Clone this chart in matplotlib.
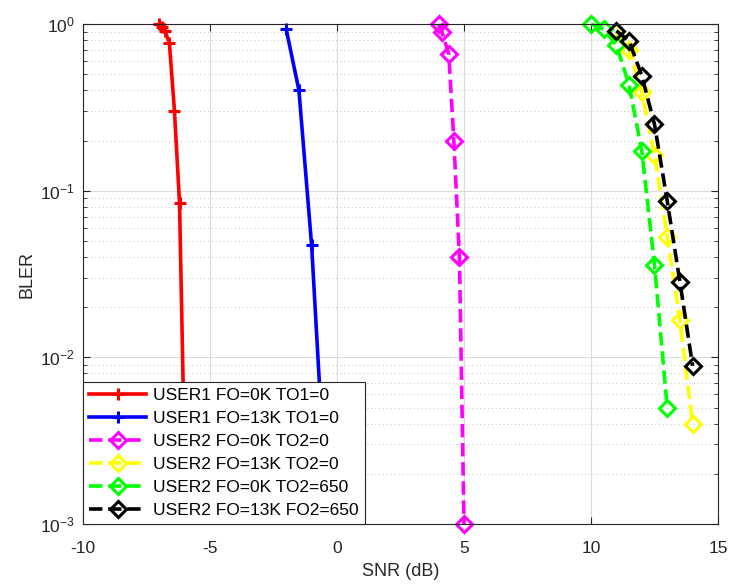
import numpy as np
import matplotlib
matplotlib.use("Agg")
import matplotlib.pyplot as plt
from matplotlib.ticker import LogLocator, NullFormatter

# BLER vs SNR
snr_u1_fo0 = [-7.0, -6.9, -6.78, -6.6, -6.4, -6.2, -5.96]
bler_u1_fo0 = [1.0, 0.96, 0.91, 0.77, 0.30, 0.084, 0.0012]

snr_u1_fo13 = [-2.0, -1.5, -1.0, -0.5]
bler_u1_fo13 = [0.93, 0.40, 0.047, 0.0021]

snr_u2_fo0 = [4.0, 4.13, 4.4, 4.6, 4.82, 5.0]
bler_u2_fo0 = [1.0, 0.90, 0.66, 0.20, 0.040, 0.001]

snr_u2_fo13 = [11.0, 11.5, 12.0, 12.5, 13.0, 13.5, 14.0]
bler_u2_fo13 = [0.90, 0.70, 0.39, 0.164, 0.053, 0.0168, 0.0040]

snr_u2_fo0_to650 = [10.0, 10.5, 11.0, 11.5, 12.0, 12.5, 13.0]
bler_u2_fo0_to650 = [1.0, 0.93, 0.75, 0.43, 0.173, 0.036, 0.005]

snr_u2_fo13_to650 = [11.0, 11.5, 12.0, 12.5, 13.0, 13.5, 14.0]
bler_u2_fo13_to650 = [0.91, 0.79, 0.49, 0.25, 0.087, 0.0284, 0.0089]

plt.rcParams["font.family"] = ["Liberation Sans", "DejaVu Sans"]
plt.rcParams["mathtext.fontset"] = "custom"
plt.rcParams["mathtext.rm"] = "Liberation Sans"
plt.rcParams["mathtext.it"] = "Liberation Sans"
plt.rcParams["axes.unicode_minus"] = False

fig = plt.figure(figsize=(7.29, 5.86), dpi=100)
ax = fig.add_axes([0.1139, 0.1058, 0.8710, 0.8532])

lw = 2.6
ms = 9
common = dict(lw=lw, clip_on=False, mew=2.2)
# last red point sits under the legend, no marker there
ax.plot(snr_u1_fo0, bler_u1_fo0, "-", color=(1, 0, 0), marker="+",
        ms=ms, markevery=list(range(len(snr_u1_fo0) - 1)),
        label="USER1 FO=0K TO1=0", **common)
ax.plot(snr_u1_fo13, bler_u1_fo13, "-", color=(0, 0, 1), marker="+",
        ms=ms, label="USER1 FO=13K TO1=0", **common)
ax.plot(snr_u2_fo0, bler_u2_fo0, "--", color=(1, 0, 1), marker="D",
        ms=ms - 1, mfc="none", label="USER2 FO=0K TO2=0", **common)
ax.plot(snr_u2_fo13, bler_u2_fo13, "--", color=(1, 1, 0), marker="D",
        ms=ms - 1, mfc="none", label="USER2 FO=13K TO2=0", **common)
ax.plot(snr_u2_fo0_to650, bler_u2_fo0_to650, "--", color=(0, 1, 0),
        marker="D", ms=ms - 1, mfc="none",
        label="USER2 FO=0K TO2=650", **common)
ax.plot(snr_u2_fo13_to650, bler_u2_fo13_to650, "--", color=(0, 0, 0),
        marker="D", ms=ms - 1, mfc="none",
        label="USER2 FO=13K FO2=650", **common)

ax.set_yscale("log")
ax.set_xlim(-10, 15)
ax.set_ylim(1e-3, 1)
ax.set_xticks([-10, -5, 0, 5, 10, 15])
ax.yaxis.set_major_locator(LogLocator(base=10, numticks=10))
ax.yaxis.set_minor_locator(LogLocator(base=10, subs=np.arange(2, 10), numticks=10))
ax.yaxis.set_minor_formatter(NullFormatter())

ax.grid(True, which="major", color="#dcdcdc", lw=0.8, ls="-")
ax.grid(True, which="minor", axis="y", color="#c4c4c4", lw=0.7, ls=(0, (1, 3)))
ax.set_axisbelow(True)

for s in ax.spines.values():
    s.set_color("#262626")
    s.set_linewidth(0.8)
ax.tick_params(which="both", direction="in", top=True, right=True,
               colors="#262626", labelsize=12.5)
ax.tick_params(which="major", length=5)
ax.tick_params(which="minor", length=3)
ax.tick_params(axis="x", pad=12)
ax.tick_params(axis="y", pad=6)

ax.set_xlabel("SNR (dB)", fontsize=13, color="#262626", labelpad=5)
ax.set_ylabel("BLER", fontsize=13, color="#262626", labelpad=3)

leg = ax.legend(loc="lower left", fontsize=12.5, handlelength=3.3,
                handletextpad=0.4, borderaxespad=0, borderpad=0.35,
                labelspacing=0.45, fancybox=False, framealpha=1,
                edgecolor="#262626")
leg.get_frame().set_linewidth(0.8)

fig.savefig("out.png", dpi=100)
